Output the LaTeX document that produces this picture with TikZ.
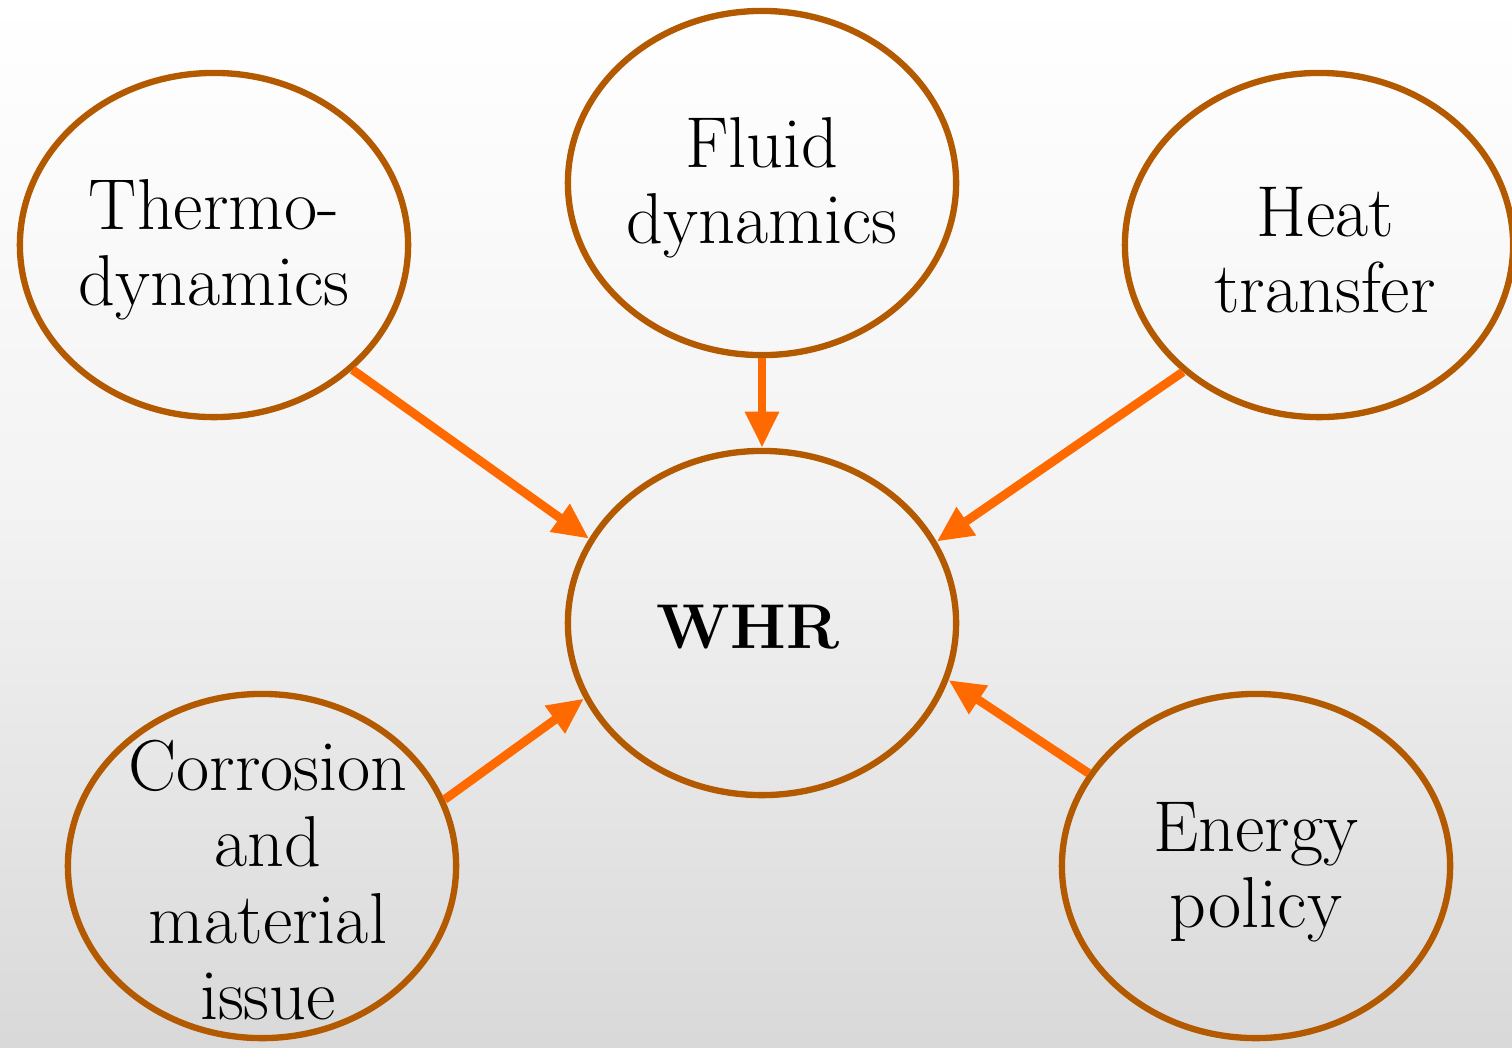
\documentclass[tikz,border=0pt]{standalone}
\usetikzlibrary{arrows.meta,shapes.geometric}
\definecolor{ringbrown}{HTML}{B35A00}
\definecolor{arroworange}{HTML}{FF6A00}
\begin{document}
\begin{tikzpicture}[x=0.01cm,y=-0.01cm,
  topic/.style={ellipse,draw=ringbrown,line width=1.8pt,minimum width=3.88cm,minimum height=3.44cm,inner sep=0pt},
  label/.style={align=center,font=\fontsize{20.5}{21.7}\selectfont,inner sep=0pt},
  link/.style={draw=arroworange,line width=2.5pt,-{Triangle[length=0.36cm,width=0.32cm]}}]
\shade[top color=white,bottom color=black!15,middle color=black!5] (0,0) rectangle (1512,1047);
\useasboundingbox (0,0) rectangle (1512,1047);
\node[topic] (thermo) at (214,245) {};
\node[topic] (fluid) at (762,183) {};
\node[topic] (heat) at (1319,245) {};
\node[topic] (whr) at (762,623) {};
\node[topic] (corr) at (262,866) {};
\node[topic] (energy) at (1256,866) {};
\node[label] (thermoT) at (214,250) {Thermo-\\dynamics};
\node[label] (fluidT) at (762,188) {Fluid\\dynamics};
\node[label] (heatT) at (1325,250) {Heat\\transfer};
\node[label,font=\fontsize{18}{21}\bfseries] (whrT) at (748,627) {WHR};
\node[label] (corrT) at (268,880) {Corrosion\\and\\material\\issue};
\node[label] (energyT) at (1256,872) {Energy\\policy};
\draw[link] (thermo.-42) -- (whr.154);
\draw[link] (fluid) -- (whr);
\draw[link] (heat.223) -- (whr.25);
\draw[link] (corr.20) -- (whr.203);
\draw[link] (energy.151) -- (whr.-17);
\end{tikzpicture}
\end{document}
